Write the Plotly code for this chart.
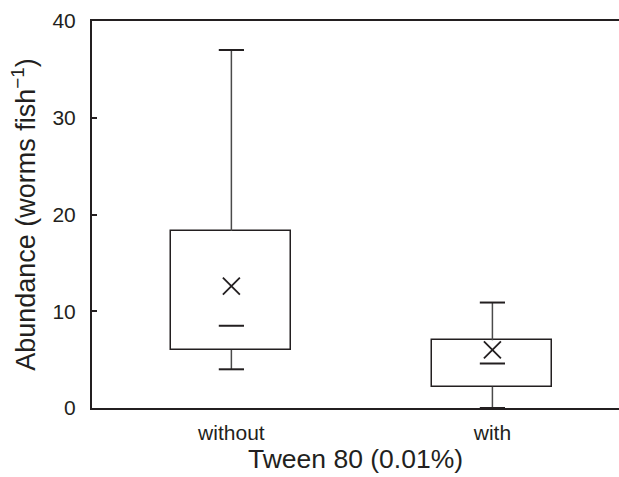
import plotly.graph_objects as go

categories = ["without", "with"]
lower_fence = [4.0, 0.0]
q1 = [6.0, 2.2]
median = [8.5, 4.6]
q3 = [18.3, 7.0]
upper_fence = [37.0, 10.9]
mean = [12.6, 6.0]

y_ticks = [0, 10, 20, 30, 40]

pos = list(range(len(categories)))
ink = "#231f20"
box_w = 0.46

fig = go.Figure()

# Boxes (q1 to q3)
fig.add_trace(go.Bar(
    x=pos, y=[b - a for a, b in zip(q1, q3)], base=q1, width=box_w,
    marker=dict(color="white", line=dict(color=ink, width=1.5)),
    hoverinfo="skip", showlegend=False,
))

# Whisker stems
wx, wy = [], []
for p, lo, a, b, hi in zip(pos, lower_fence, q1, q3, upper_fence):
    wx += [p, p, None, p, p, None]
    wy += [b, hi, None, lo, a, None]
fig.add_trace(go.Scatter(x=wx, y=wy, mode="lines",
                         line=dict(color="#4a4a4a", width=1.5),
                         hoverinfo="skip", showlegend=False))

# Whisker caps
fig.add_trace(go.Scatter(
    x=pos + pos, y=upper_fence + lower_fence, mode="markers",
    marker=dict(symbol="line-ew", size=18, line=dict(color=ink, width=2)),
    hoverinfo="skip", showlegend=False))

# Median dashes
fig.add_trace(go.Scatter(
    x=pos, y=median, mode="markers",
    marker=dict(symbol="line-ew", size=18, line=dict(color=ink, width=2)),
    hoverinfo="skip", showlegend=False))

# Means
fig.add_trace(go.Scatter(
    x=pos, y=mean, mode="markers",
    marker=dict(symbol="x-thin", size=17, line=dict(color=ink, width=1.8)),
    hoverinfo="skip", showlegend=False))

font_family = "Liberation Sans, Arial, Helvetica, sans-serif"

fig.update_layout(
    width=619, height=477,
    margin=dict(l=92, r=0, t=21, b=69),
    paper_bgcolor="white", plot_bgcolor="white",
    font=dict(family=font_family, color=ink, size=21),
    bargap=0,
)
fig.update_xaxes(
    range=[-0.534, 1.485],
    tickvals=pos, ticktext=categories,
    ticks="", showgrid=False, zeroline=False,
    showline=True, linecolor=ink, linewidth=2, mirror=True,
    tickfont=dict(size=21), ticklabelstandoff=5,
    title=dict(text="Tween 80 (0.01%)", font=dict(size=26.5), standoff=5),
)
fig.update_yaxes(
    range=[0, 40], tickvals=y_ticks,
    ticks="inside", ticklen=5, tickwidth=1.5, tickcolor=ink,
    showgrid=False, zeroline=False,
    showline=True, linecolor=ink, linewidth=2,
    tickfont=dict(size=21), ticklabelstandoff=10,
    title=dict(text="Abundance (worms fish<sup>−1</sup>)", font=dict(size=27), standoff=9),
)

fig.write_html(
    "out.html",
    config={"displayModeBar": False},
    post_script="document.body.style.margin='0';document.body.style.overflow='hidden';",
)
